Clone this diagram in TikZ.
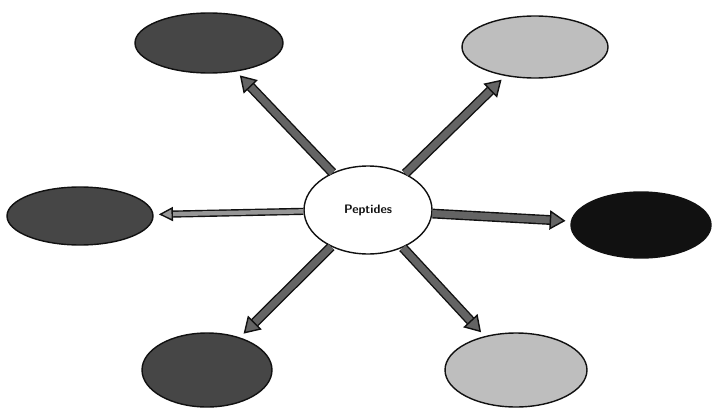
\documentclass[tikz,border=0pt]{standalone}
\usetikzlibrary{arrows.meta,shapes.geometric}
\definecolor{ink}{RGB}{17,17,17}
\definecolor{darkfill}{RGB}{70,70,70}
\definecolor{lightfill}{RGB}{190,190,190}
\definecolor{shaft}{RGB}{100,100,100}
\definecolor{paleshaft}{RGB}{150,150,150}
\tikzset{
  hub/.style={ellipse, draw=ink, thick, fill=white, inner sep=0pt,
              font=\sffamily\bfseries\scriptsize, text=ink},
  leaf/.style={ellipse, draw=ink, thick, inner sep=0pt},
  darkleaf/.style={leaf, fill=darkfill},
  lightleaf/.style={leaf, fill=lightfill},
  arr/.style={-{Triangle[length=9pt,width=11pt,fill=shaft]}, draw=ink, line width=0.8pt,
              double=shaft, double distance=4pt, shorten >=3pt},
  parr/.style={arr, double=paleshaft, double distance=2.5pt,
              -{Triangle[length=8pt,width=8pt,fill=paleshaft]}},
}
\begin{document}
\begin{tikzpicture}[x=0.02cm, y=-0.02cm]
  \useasboundingbox (0,0) rectangle (713,409);

  \node[hub, minimum width=2.56cm, minimum height=1.76cm] (pep) at (368,210) {Peptides};

  \node[darkleaf, minimum width=2.96cm, minimum height=1.2cm] (nw) at (209,43) {};
  \node[lightleaf, minimum width=2.92cm, minimum height=1.24cm] (ne) at (535,47) {};
  \node[darkleaf, minimum width=2.92cm, minimum height=1.16cm] (lft) at (80,216) {};
  \node[leaf, fill=ink, minimum width=2.8cm, minimum height=1.32cm] (rgt) at (641,225) {};
  \node[darkleaf, minimum width=2.6cm, minimum height=1.48cm] (sw) at (207,370) {};
  \node[lightleaf, minimum width=2.84cm, minimum height=1.48cm] (se) at (516,370) {};

  \draw[arr] (pep) -- (nw);
  \draw[arr] (pep) -- (ne);
  \draw[parr] (pep) -- (lft);
  \draw[arr] (pep) -- (rgt);
  \draw[arr] (pep) -- (sw);
  \draw[arr] (pep) -- (se);
\end{tikzpicture}
\end{document}
